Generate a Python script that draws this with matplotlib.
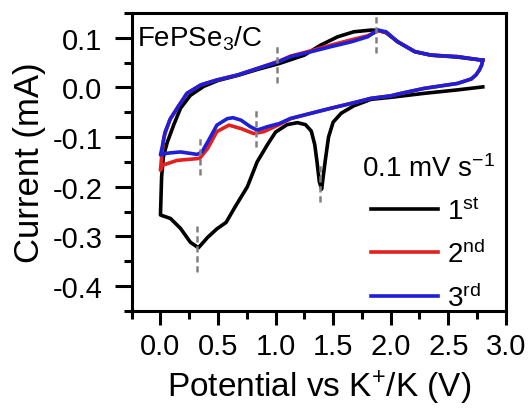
import numpy as np
import matplotlib
matplotlib.use('Agg')
import matplotlib.pyplot as plt

plt.rcParams['font.family'] = ['Liberation Sans', 'DejaVu Sans']
plt.rcParams['mathtext.fontset'] = 'custom'
plt.rcParams['mathtext.rm'] = 'Liberation Sans'
plt.rcParams['mathtext.it'] = 'Liberation Sans:italic'

# 1st cycle: cathodic scan (2.8 V -> 0 V) then anodic scan (0 V -> 2.8 V)
c1_cat_v = [2.80, 2.58, 2.29, 2.00, 1.83, 1.68, 1.57, 1.50, 1.46, 1.43, 1.40, 1.38, 1.36,
            1.34, 1.31, 1.26, 1.19, 1.10, 1.00, 0.93, 0.84, 0.755, 0.65, 0.57, 0.49, 0.41,
            0.33, 0.26, 0.174, 0.087, 0.0]
c1_cat_i = [0.001, -0.005, -0.012, -0.020, -0.024, -0.037, -0.052, -0.070, -0.100, -0.150,
            -0.205, -0.190, -0.150, -0.115, -0.088, -0.075, -0.071, -0.075, -0.090, -0.115,
            -0.150, -0.200, -0.240, -0.272, -0.285, -0.302, -0.323, -0.312, -0.284, -0.264,
            -0.257]
c1_an_v = [0.0, 0.01, 0.025, 0.06, 0.116, 0.174, 0.26, 0.375, 0.50, 0.67, 0.84, 1.03, 1.25,
           1.39, 1.54, 1.68, 1.83, 1.89, 1.96, 2.06, 2.21, 2.35, 2.58, 2.79]
c1_an_i = [-0.257, -0.180, -0.140, -0.110, -0.075, -0.042, -0.016, 0.002, 0.014, 0.024,
           0.036, 0.048, 0.065, 0.085, 0.102, 0.112, 0.1155, 0.115, 0.110, 0.092, 0.072,
           0.065, 0.061, 0.055]

# 2nd cycle
c2_v = [2.80, 2.79, 2.77, 2.74, 2.70, 2.58, 2.29, 2.09, 2.00, 1.83, 1.66, 1.48, 1.31, 1.13,
        1.03, 0.90, 0.81, 0.70, 0.595, 0.49, 0.41, 0.34, 0.145, 0.015, 0.0,
        0.01, 0.03, 0.08, 0.15, 0.23, 0.35, 0.49, 0.67, 0.84, 1.03, 1.13, 1.31, 1.48, 1.66,
        1.80, 1.89, 1.96, 2.06, 2.21, 2.35, 2.58, 2.79, 2.80]
c2_i = [0.055, 0.045, 0.035, 0.025, 0.017, 0.008, -0.002, -0.012, -0.017, -0.022, -0.032,
        -0.042, -0.052, -0.063, -0.075, -0.089, -0.093, -0.083, -0.076, -0.089, -0.123,
        -0.143, -0.147, -0.157, -0.167,
        -0.140, -0.100, -0.066, -0.040, -0.012, 0.005, 0.015, 0.025, 0.038, 0.053, 0.063,
        0.074, 0.085, 0.096, 0.104, 0.114, 0.111, 0.092, 0.072, 0.065, 0.062, 0.055, 0.055]

# 3rd cycle
c3_v = [2.80, 2.79, 2.77, 2.74, 2.70, 2.58, 2.29, 2.09, 2.00, 1.83, 1.66, 1.48, 1.31, 1.13,
        1.03, 0.93, 0.84, 0.78, 0.70, 0.63, 0.58, 0.49, 0.41, 0.36, 0.32, 0.174, 0.08, 0.02,
        0.0,
        0.015, 0.04, 0.087, 0.145, 0.23, 0.35, 0.49, 0.67, 0.84, 1.03, 1.13, 1.31, 1.48,
        1.66, 1.80, 1.89, 1.96, 2.06, 2.21, 2.35, 2.58, 2.79]
c3_i = [0.055, 0.045, 0.035, 0.025, 0.017, 0.008, -0.002, -0.012, -0.017, -0.022, -0.032,
        -0.042, -0.052, -0.0625, -0.073, -0.079, -0.086, -0.079, -0.066, -0.061, -0.063,
        -0.076, -0.110, -0.130, -0.135, -0.130, -0.132, -0.134, -0.136,
        -0.120, -0.090, -0.0625, -0.042, -0.012, 0.005, 0.015, 0.025, 0.038, 0.052, 0.062,
        0.072, 0.082, 0.092, 0.102, 0.1155, 0.112, 0.092, 0.072, 0.065, 0.062, 0.055]

# peak markers (potential, lower and upper current of the dashed guide)
peak_v = [0.32, 0.34, 0.83, 1.39, 1.01, 1.87]
peak_lo = [-0.371, -0.177, -0.120, -0.230, 0.008, 0.069]
peak_hi = [-0.280, -0.096, -0.046, -0.157, 0.089, 0.145]

fig = plt.figure(figsize=(5.28, 4.10), dpi=100)
ax = fig.add_axes([0.2494, 0.2395, 0.7086, 0.7265])

black = '#000000'
red = '#e3201f'
blue = '#1f1fd6'

ax.plot(c1_cat_v + c1_an_v, c1_cat_i + c1_an_i, color=black, lw=2.6, label='1$^{\\mathrm{st}}$')
ax.plot(c2_v, c2_i, color=red, lw=2.6, label='2$^{\\mathrm{nd}}$')
ax.plot(c3_v, c3_i, color=blue, lw=2.6, label='3$^{\\mathrm{rd}}$')

for v, lo, hi in zip(peak_v, peak_lo, peak_hi):
    ax.plot([v, v], [lo, hi], color='#808080', lw=1.8, ls=(0, (2.5, 1.5)), zorder=5)

ax.set_xlim(-0.25, 3.0)
ax.set_ylim(-0.45, 0.15)
ax.set_xticks(np.arange(0, 3.01, 0.5))
ax.set_xticks(np.arange(-0.25, 3.01, 0.25), minor=True)
ax.set_yticks(np.arange(-0.4, 0.11, 0.1))
ax.set_yticks(np.arange(-0.45, 0.16, 0.05), minor=True)
ax.set_xticklabels(['%.1f' % t for t in np.arange(0, 3.01, 0.5)])
ax.set_yticklabels(['%.1f' % t if abs(t) > 1e-9 else '0.0' for t in np.arange(-0.4, 0.11, 0.1)])

for s in ax.spines.values():
    s.set_linewidth(2.2)
ax.tick_params(which='major', direction='out', length=10, width=2.2, labelsize=21, pad=5)
ax.tick_params(which='minor', direction='out', length=6, width=2.2)
ax.tick_params(axis='y', which='major', length=12, pad=9)

ax.set_xlabel('Potential vs K$^{+}$/K (V)', fontsize=24, labelpad=6)
ax.set_ylabel('Current (mA)', fontsize=25, labelpad=5)

ax.text(0.015, 0.965, 'FePSe$_3$/C', transform=ax.transAxes, fontsize=20, va='top', ha='left')

leg = ax.legend(loc='lower right', frameon=False, fontsize=20, title='0.1 mV s$^{-1}$',
                title_fontsize=20, handlelength=2.4, handletextpad=0.35, labelspacing=0.54,
                borderaxespad=0.0, bbox_to_anchor=(1.0, -0.04))
leg._legend_box.align = 'center'

fig.savefig('out.png', dpi=100)
